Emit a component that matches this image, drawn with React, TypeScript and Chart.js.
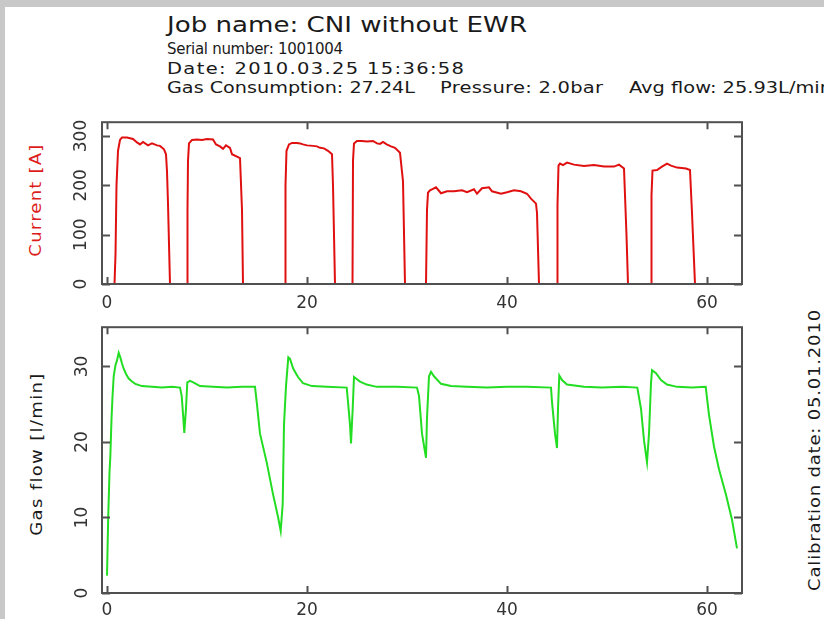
import { useEffect, useRef } from 'react';
import { Chart, registerables } from 'chart.js';

Chart.register(...registerables);

// Welding log: arc current and shielding-gas flow over time (seconds)
const jobTitle = 'Job name: CNI without EWR';
const serialLine = 'Serial number: 1001004';
const dateLine = 'Date: 2010.03.25 15:36:58';
const consumptionText = 'Gas Consumption: 27.24L';
const pressureText = 'Pressure: 2.0bar';
const avgFlowText = 'Avg flow: 25.93L/min';
const calibrationText = 'Calibration date: 05.01.2010';
const currentAxisTitle = 'Current [A]';
const flowAxisTitle = 'Gas flow [l/min]';

const timeTicks = [0, 20, 40, 60];
const currentTicks = [0, 100, 200, 300];
const flowTicks = [0, 10, 20, 30];

// Current trace
const currentTime = [
  0, 0.75, 0.85, 0.95, 1.1, 1.3, 1.5, 2.0, 2.6, 3.0, 3.3, 3.6, 4.1, 4.5, 5.0, 5.3, 5.7, 5.9, 6.0, 6.1, 6.3,
  8.0, 8.05, 8.1, 8.2, 8.5, 9.0, 9.5, 10.0, 10.6, 10.9, 11.3, 11.6, 11.9, 12.3, 12.5, 13.1, 13.3, 13.5, 13.6,
  17.8, 17.85, 17.95, 18.2, 18.5, 19.0, 19.3, 19.6, 20.0, 20.6, 21.0, 21.3, 21.7, 22.1, 22.5, 22.6, 22.8,
  24.55, 24.6, 24.7, 25.0, 25.5, 26.0, 26.6, 27.0, 27.3, 27.6, 27.97, 28.4, 28.8, 29.3, 29.6, 29.8,
  31.9, 32.0, 32.1, 32.3, 32.5, 32.9, 33.4, 34.0, 34.7, 35.5, 36.0, 36.7, 37.0, 37.5, 38.2, 38.5, 39.4, 40.0,
  40.7, 41.4, 42.0, 42.4, 42.9, 43.0, 43.2,
  45.0, 45.05, 45.15, 45.3, 45.6, 46.0, 46.7, 47.7, 48.7, 49.7, 50.7, 51.2, 51.7, 51.95, 52.1,
  54.4, 54.45, 54.55, 55.0, 55.5, 56.0, 56.4, 57.0, 57.9, 58.3, 58.5, 58.8, 63.5,
];
const currentAmps = [
  0, 0, 60, 200, 270, 292, 297, 297, 294, 287, 283, 288, 281, 285, 281, 280, 273, 263, 228, 163, 0,
  0, 150, 250, 285, 292, 293, 292, 294, 293, 283, 279, 274, 281, 276, 263, 257, 255, 150, 0,
  0, 200, 270, 283, 286, 286, 285, 283, 281, 280, 279, 276, 275, 270, 263, 200, 0,
  0, 250, 285, 290, 290, 289, 290, 285, 284, 288, 283, 279, 276, 266, 208, 0,
  0, 150, 185, 190, 192, 196, 184, 188, 188, 190, 186, 192, 183, 194, 196, 188, 183, 186,
  190, 188, 183, 173, 163, 144, 0,
  0, 160, 240, 244, 241, 246, 242, 239, 241, 238, 238, 242, 234, 99, 0,
  0, 180, 230, 231, 238, 244, 240, 236, 234, 231, 144, 0, 0,
];

// Gas flow trace
const flowTime = [
  0.0, 0.12, 0.25, 0.33, 0.45, 0.55, 0.67, 0.85, 1.0, 1.17, 1.33, 1.5, 1.67, 1.9, 2.17, 2.5, 2.83, 3.5, 4.5,
  5.5, 6.5, 7.3, 7.47, 7.63, 7.73, 7.9, 8.03, 8.3, 8.63, 9.3, 10.6, 12.0, 13.5, 14.8, 14.97, 15.3, 15.97,
  16.6, 17.1, 17.37, 17.57, 17.7, 17.9, 18.13, 18.3, 18.63, 19.1, 19.6, 20.5, 22.0, 23.97, 24.1, 24.3, 24.4,
  24.57, 24.7, 24.9, 25.3, 25.97, 26.97, 29.0, 31.0, 31.2, 31.5, 31.9, 32.0, 32.2, 32.4, 32.7, 33.4, 34.4,
  36.0, 38.0, 40.0, 42.0, 44.4, 44.5, 44.8, 45.0, 45.1, 45.23, 45.5, 46.0, 47.7, 49.5, 51.5, 53.03, 53.4,
  53.7, 54.0, 54.2, 54.4, 54.5, 54.9, 55.4, 56.0, 57.0, 58.5, 59.87, 60.2, 60.7, 61.2, 61.9, 62.5, 63.0,
];
const flowRate = [
  2.3, 10, 16, 18, 23, 26, 28.7, 30.2, 30.8, 31.8, 31.2, 30.4, 29.7, 29, 28.4, 28, 27.7, 27.4, 27.3,
  27.2, 27.3, 27.2, 26.1, 23.2, 21.2, 24.4, 27.9, 28.1, 27.9, 27.4, 27.3, 27.2, 27.3, 27.3, 25.3, 21.1, 17.3,
  13.1, 10.1, 8.2, 11.8, 22.3, 27.4, 31.2, 31.0, 29.7, 28.6, 27.8, 27.4, 27.3, 27.2, 25.3, 22.3, 19.8,
  24.4, 28.6, 28.4, 28.0, 27.6, 27.3, 27.3, 27.2, 26.1, 21.1, 17.9, 23.2, 28.7, 29.3, 28.7, 27.7, 27.4,
  27.3, 27.2, 27.3, 27.3, 27.2, 25.3, 21.1, 19.2, 24.4, 28.8, 28.2, 27.6, 27.3, 27.2, 27.3, 27.2, 24.4,
  20.2, 17.3, 21.1, 27.8, 29.5, 29.1, 28.2, 27.6, 27.3, 27.2, 27.3, 23.6, 19.4, 16.4, 13.0, 9.7, 5.9,
];

const FONT = '"DejaVu Sans", "Liberation Sans", sans-serif';

// Box around the plot area with inward tick marks on all four sides
const framePlugin = {
  id: 'frameTicks',
  afterDatasetsDraw(chart: any) {
    const { ctx, chartArea } = chart;
    const { left, right, top, bottom } = chartArea;
    const xs = chart.scales.x;
    const ys = chart.scales.y;
    ctx.save();
    ctx.strokeStyle = '#505050';
    ctx.lineWidth = 2;
    ctx.strokeRect(left, top, right - left, bottom - top);
    ctx.beginPath();
    xs.ticks.forEach((t: any) => {
      const px = Math.round(xs.getPixelForValue(t.value)) + 0.5;
      ctx.moveTo(px, bottom);
      ctx.lineTo(px, bottom - 7);
      ctx.moveTo(px, top);
      ctx.lineTo(px, top + 7);
    });
    ys.ticks.forEach((t: any) => {
      const py = Math.round(ys.getPixelForValue(t.value)) + 0.5;
      ctx.moveTo(left, py);
      ctx.lineTo(left + 8, py);
      ctx.moveTo(right, py);
      ctx.lineTo(right - 8, py);
    });
    ctx.stroke();
    ctx.restore();
  },
};

function makeConfig(opts: {
  xs: number[];
  ys: number[];
  color: string;
  yMax: number;
  yTicks: number[];
  xPad: number;
  yPad: number;
  xHeight: number;
}) {
  const points = opts.xs.map((x, i) => ({ x, y: opts.ys[i] }));
  const tickFont = { family: FONT, size: 17 };
  return {
    type: 'line' as const,
    data: {
      datasets: [
        {
          data: points,
          borderColor: opts.color,
          borderWidth: 2,
          pointRadius: 0,
          tension: 0,
          fill: false,
        },
      ],
    },
    options: {
      animation: false as const,
      responsive: false,
      events: [] as any[],
      layout: { padding: { top: 7, right: 18, left: 0, bottom: 0 } },
      plugins: { legend: { display: false }, tooltip: { enabled: false } },
      scales: {
        x: {
          type: 'linear' as const,
          min: -0.5,
          max: 63.5,
          afterBuildTicks: (s: any) => {
            s.ticks = timeTicks.map((value) => ({ value }));
          },
          afterFit: (s: any) => {
            s.height = opts.xHeight;
          },
          grid: { display: false, drawTicks: false },
          border: { display: false },
          ticks: { padding: opts.xPad, font: tickFont, color: '#333', maxRotation: 0 },
        },
        y: {
          type: 'linear' as const,
          min: 0,
          max: opts.yMax,
          afterBuildTicks: (s: any) => {
            s.ticks = opts.yTicks.map((value) => ({ value }));
          },
          afterFit: (s: any) => {
            s.width = 52;
          },
          grid: { display: false, drawTicks: false },
          border: { display: false },
          ticks: {
            padding: opts.yPad,
            font: tickFont,
            color: '#333',
            minRotation: 90,
            maxRotation: 90,
            crossAlign: 'center' as const,
          },
        },
      },
    },
    plugins: [framePlugin],
  };
}

let measureCtx: CanvasRenderingContext2D | null = null;
function naturalWidth(text: string, size: number) {
  if (!measureCtx) measureCtx = document.createElement('canvas').getContext('2d');
  if (!measureCtx) return text.length * size * 0.6;
  measureCtx.font = `${size}px ${FONT}`;
  return measureCtx.measureText(text).width;
}

// Widen the glyphs (up to a limit) and spread the rest so the text spans `width`
function stretch(text: string, size: number, width: number, maxScale: number) {
  const natural = naturalWidth(text, size);
  const scale = Math.min(maxScale, Math.max(1, width / natural));
  const spacing = (width / scale - natural) / Math.max(1, text.length - 1);
  return { scale, spacing };
}

function Line(props: { text: string; x: number; baseline: number; size: number; width: number; color?: string }) {
  const { text, x, baseline, size, width, color } = props;
  const { scale, spacing } = stretch(text, size, width, 1.3);
  return (
    <div
      style={{
        position: 'absolute',
        left: x,
        top: baseline - size * 0.846,
        fontFamily: FONT,
        fontSize: size,
        lineHeight: 1,
        whiteSpace: 'nowrap',
        letterSpacing: spacing,
        transform: `scaleX(${scale})`,
        transformOrigin: 'left top',
        color: color || '#1a1a1a',
      }}
    >
      {text}
    </div>
  );
}

function Vertical(props: { text: string; cx: number; cy: number; size: number; length: number; color?: string }) {
  const { text, cx, cy, size, length, color } = props;
  const { scale, spacing } = stretch(text, size, length, 1.2);
  return (
    <div
      style={{
        position: 'absolute',
        left: cx,
        top: cy,
        transform: `translate(-50%, -50%) rotate(-90deg) scaleX(${scale})`,
        fontFamily: FONT,
        fontSize: size,
        lineHeight: 1,
        whiteSpace: 'nowrap',
        letterSpacing: spacing,
        color: color || '#1a1a1a',
      }}
    >
      {text}
    </div>
  );
}

export default function App() {
  const topRef = useRef<HTMLCanvasElement>(null);
  const bottomRef = useRef<HTMLCanvasElement>(null);

  useEffect(() => {
    const charts: Chart[] = [];
    if (topRef.current) {
      charts.push(
        new Chart(
          topRef.current,
          makeConfig({
            xs: currentTime,
            ys: currentAmps,
            color: '#e01010',
            yMax: 328,
            yTicks: currentTicks,
            xPad: 9,
            yPad: 4,
            xHeight: 36,
          }) as any
        )
      );
    }
    if (bottomRef.current) {
      charts.push(
        new Chart(
          bottomRef.current,
          makeConfig({
            xs: flowTime,
            ys: flowRate,
            color: '#22dd22',
            yMax: 35.2,
            yTicks: flowTicks,
            xPad: 7,
            yPad: 9,
            xHeight: 26,
          }) as any
        )
      );
    }
    return () => charts.forEach((c) => c.destroy());
  }, []);

  return (
    <div
      style={{
        position: 'fixed',
        left: 0,
        top: 0,
        width: 824,
        height: 619,
        background: '#c8c8c8',
        overflow: 'hidden',
      }}
    >
      <div style={{ position: 'absolute', left: 5, top: 7, right: 0, bottom: 0, background: '#fff' }} />
      <Line text={jobTitle} x={167} baseline={33} size={21} width={360} />
      <Line text={serialLine} x={167} baseline={55} size={15} width={176} />
      <Line text={dateLine} x={167} baseline={75} size={15} width={297} />
      <Line text={consumptionText} x={167} baseline={94} size={15} width={248} />
      <Line text={pressureText} x={440} baseline={94} size={15} width={163} />
      <Line text={avgFlowText} x={629} baseline={94} size={15} width={203} />
      <Vertical text={currentAxisTitle} cx={36} cy={200} size={15} length={112} color="#dd1c1c" />
      <Vertical text={flowAxisTitle} cx={37} cy={454} size={15} length={162} />
      <Vertical text={calibrationText} cx={815} cy={450} size={15} length={281} />
      <canvas
        ref={topRef}
        width={710}
        height={212}
        style={{ position: 'absolute', left: 50, top: 108, width: 710, height: 212 }}
      />
      <canvas
        ref={bottomRef}
        width={710}
        height={311}
        style={{ position: 'absolute', left: 50, top: 308, width: 710, height: 311 }}
      />
    </div>
  );
}
